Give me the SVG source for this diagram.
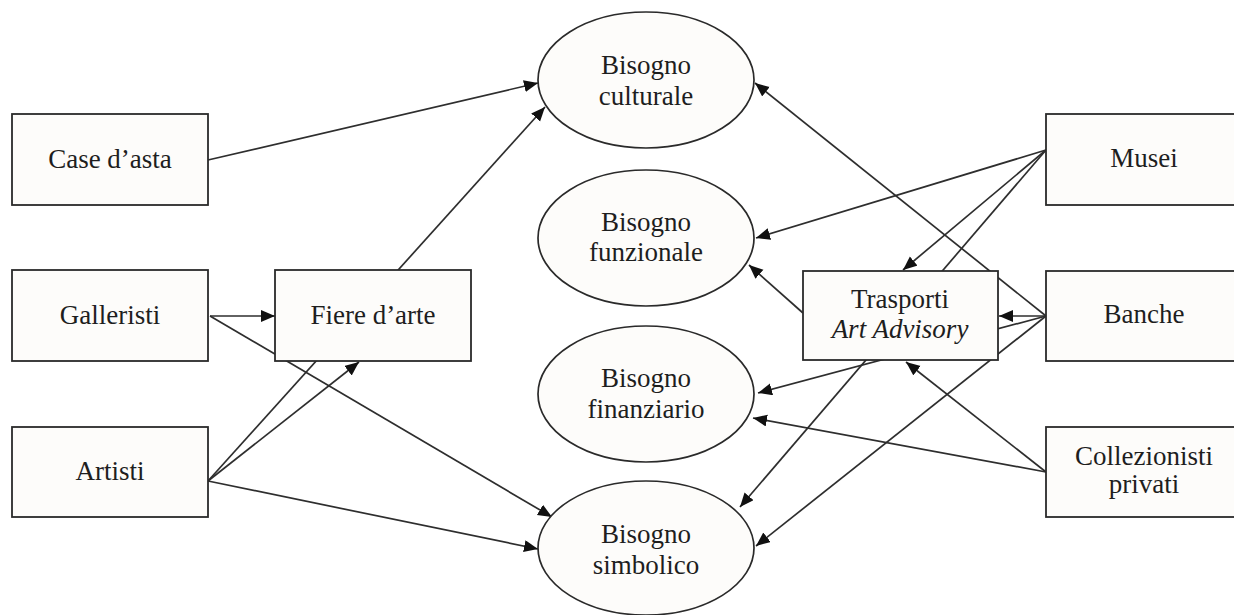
<svg xmlns="http://www.w3.org/2000/svg" width="1234" height="615" viewBox="0 0 1234 615">
<defs>
<marker id="ah" markerUnits="userSpaceOnUse" markerWidth="16" markerHeight="14" refX="14" refY="6" orient="auto">
<path d="M0,0 L14,6 L0,12 z" fill="#111"/>
</marker>
<style>
.box{fill:#fdfcfa;stroke:#2a2a2a;stroke-width:1.8}
.ell{fill:#fdfcfa;stroke:#2a2a2a;stroke-width:1.7}
.t{font-family:"Liberation Serif","Times New Roman",serif;font-size:27px;fill:#1e1e1e;text-anchor:middle}
.i{font-style:italic}
.c line{stroke:#2e2e2e;stroke-width:1.7}
.a{marker-end:url(#ah)}
</style>
</defs>
<rect width="1234" height="615" fill="#ffffff"/>
<g id="connectors" class="c">
<line class="a" x1="208" y1="160" x2="538" y2="83"/>
<line class="a" x1="208" y1="481" x2="545" y2="107"/>
<line class="a" x1="210" y1="316" x2="275" y2="316"/>
<line class="a" x1="210" y1="316" x2="552" y2="517"/>
<line class="a" x1="208" y1="481" x2="359" y2="362"/>
<line class="a" x1="208" y1="481" x2="538" y2="549"/>
<line class="a" x1="1046" y1="316" x2="755" y2="83"/>
<line class="a" x1="1046" y1="150" x2="756" y2="238"/>
<line class="a" x1="1046" y1="150" x2="903" y2="270"/>
<line class="a" x1="1046" y1="150" x2="740" y2="507"/>
<line class="a" x1="1046" y1="316" x2="999" y2="316"/>
<line class="a" x1="1046" y1="316" x2="758" y2="393"/>
<line class="a" x1="1046" y1="316" x2="756" y2="546"/>
<line class="a" x1="803" y1="313" x2="749" y2="265"/>
<line class="a" x1="1046" y1="472" x2="906" y2="362"/>
<line class="a" x1="1046" y1="472" x2="753" y2="418"/>
</g>
<g id="case-asta"><rect class="box" x="12" y="114" width="196" height="91"/><text class="t" x="110" y="168">Case d’asta</text></g>
<g id="galleristi"><rect class="box" x="12" y="270" width="196" height="91"/><text class="t" x="110" y="324">Galleristi</text></g>
<g id="artisti"><rect class="box" x="12" y="427" width="196" height="90"/><text class="t" x="110" y="480">Artisti</text></g>
<g id="fiere"><rect class="box" x="275" y="270" width="196" height="91"/><text class="t" x="373" y="324">Fiere d’arte</text></g>
<g id="culturale"><ellipse class="ell" cx="646" cy="80" rx="108" ry="68"/><text class="t" x="646" y="74">Bisogno</text><text class="t" x="646" y="105">culturale</text></g>
<g id="funzionale"><ellipse class="ell" cx="646" cy="238" rx="108" ry="68"/><text class="t" x="646" y="231">Bisogno</text><text class="t" x="646" y="261">funzionale</text></g>
<g id="finanziario"><ellipse class="ell" cx="646" cy="394" rx="108" ry="68"/><text class="t" x="646" y="387">Bisogno</text><text class="t" x="646" y="418">finanziario</text></g>
<g id="simbolico"><ellipse class="ell" cx="646" cy="548" rx="108" ry="67"/><text class="t" x="646" y="543">Bisogno</text><text class="t" x="646" y="574">simbolico</text></g>
<g id="trasporti"><rect class="box" x="803" y="271" width="195" height="89"/><text class="t" x="900" y="308">Trasporti</text><text class="t i" x="900" y="338">Art Advisory</text></g>
<g id="musei"><rect class="box" x="1046" y="114" width="196" height="91"/><text class="t" x="1144" y="167">Musei</text></g>
<g id="banche"><rect class="box" x="1046" y="271" width="196" height="90"/><text class="t" x="1144" y="323">Banche</text></g>
<g id="collezionisti"><rect class="box" x="1046" y="427" width="196" height="90"/><text class="t" x="1144" y="465">Collezionisti</text><text class="t" x="1144" y="493">privati</text></g>
</svg>
